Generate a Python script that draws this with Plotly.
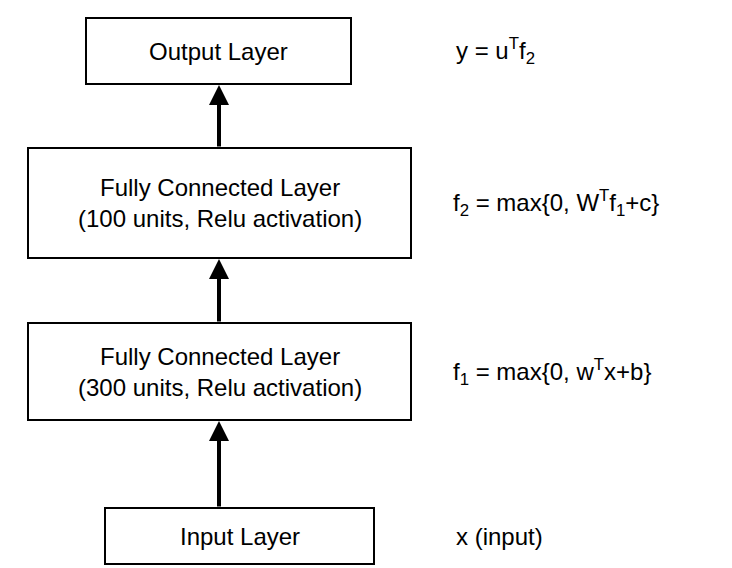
import plotly.graph_objects as go

# layer boxes: label, x0, x1, y0, y1 (pixel-like coords, y down)
box_labels = ["Output Layer",
              "Fully Connected Layer<br>(100 units, Relu activation)",
              "Fully Connected Layer<br>(300 units, Relu activation)",
              "Input Layer"]
box_x0 = [78, 20, 20, 97]
box_x1 = [343, 403, 403, 366]
box_y0 = [10, 140, 315, 500]
box_y1 = [76, 250, 412, 556]

formulas = ["y = u<sup>T</sup>f<sub>2</sub>",
            "f<sub>2</sub> = max{0, W<sup>T</sup>f<sub>1</sub>+c}",
            "f<sub>1</sub> = max{0, w<sup>T</sup>x+b}",
            "x (input)"]
formula_x = [446, 443, 443, 446]

arrow_x = 211

fig = go.Figure()
font = dict(family="Liberation Sans, Arial, sans-serif", size=24, color="black")

for i, lab in enumerate(box_labels):
    fig.add_shape(type="rect", x0=box_x0[i], x1=box_x1[i], y0=box_y0[i], y1=box_y1[i],
                  line=dict(color="black", width=2), fillcolor="white")
    fig.add_annotation(x=(box_x0[i] + box_x1[i]) / 2, y=(box_y0[i] + box_y1[i]) / 2,
                       text=lab, showarrow=False, font=font)
    ym = (box_y0[i] + box_y1[i]) / 2
    fig.add_annotation(x=formula_x[i], y=ym, text=formulas[i], showarrow=False,
                       xanchor="left", font=font)

# arrows between layers (from lower box top to upper box bottom)
for i in range(len(box_labels) - 1):
    fig.add_annotation(x=arrow_x, y=box_y1[i] + 1, ax=arrow_x, ay=box_y0[i + 1],
                       xref="x", yref="y", axref="x", ayref="y", text="",
                       showarrow=True, arrowhead=2, arrowsize=1, arrowwidth=4,
                       arrowcolor="black")

fig.update_xaxes(range=[0, 732], visible=False)
fig.update_yaxes(range=[568, 0], visible=False)
fig.update_layout(width=732, height=568, margin=dict(l=0, r=0, t=0, b=0),
                  plot_bgcolor="white", paper_bgcolor="white", showlegend=False)
fig.write_html("out.html")
